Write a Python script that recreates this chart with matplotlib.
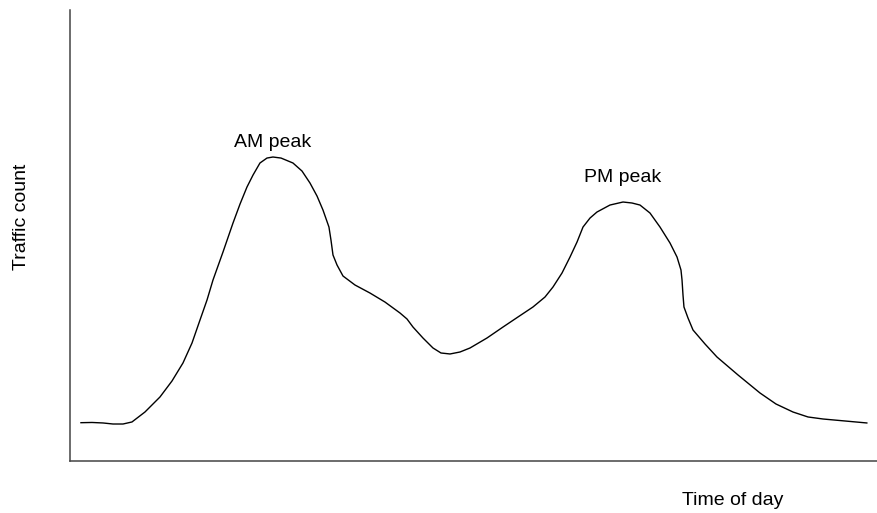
import matplotlib
matplotlib.use('Agg')
import matplotlib.pyplot as plt

plt.rcParams['font.family'] = ['Liberation Sans', 'DejaVu Sans']

# time of day (arbitrary units 0-100) and traffic count (relative)
time = [1.36, 2.73, 4.09, 5.33, 6.57, 7.68, 9.29, 11.15, 12.64, 14.00, 15.12, 16.11,
        16.98, 17.72, 18.96, 20.20, 21.07, 21.93, 22.68, 23.54, 24.41, 25.15, 26.15,
        27.63, 28.75, 29.74, 30.61, 31.35, 32.09, 32.34, 32.59, 33.09, 33.83, 35.32,
        37.17, 39.03, 40.89, 41.76, 42.50, 43.74, 44.98, 45.97, 47.09, 48.33, 49.57,
        51.67, 53.66, 55.51, 57.37, 58.86, 59.85, 60.97, 61.96, 62.83, 63.57, 64.44,
        65.30, 66.91, 68.53, 69.64, 70.63, 71.87, 73.11, 74.35, 75.22, 75.71, 75.84,
        75.96, 76.08, 76.58, 77.20, 78.69, 80.17, 82.78, 85.50, 87.48, 89.59, 91.45,
        93.31, 96.03, 98.74]
count = [8.49, 8.54, 8.43, 8.20, 8.20, 8.65, 10.86, 14.19, 17.74, 21.73, 26.16, 31.26,
         35.70, 40.13, 46.34, 52.77, 56.98, 60.75, 63.41, 66.08, 67.18, 67.41, 67.18,
         66.08, 64.30, 61.64, 58.76, 55.65, 51.88, 49.00, 45.68, 43.46, 41.02, 39.02,
         37.25, 35.25, 32.82, 31.49, 29.71, 27.27, 25.06, 23.95, 23.73, 24.17, 25.06,
         27.27, 29.71, 31.93, 34.15, 36.36, 38.58, 41.69, 45.23, 48.56, 51.88, 53.88,
         55.21, 56.76, 57.43, 57.21, 56.76, 54.99, 51.88, 48.34, 45.23, 42.35, 40.13,
         36.81, 34.15, 31.71, 29.05, 25.94, 23.06, 19.07, 15.08, 12.64, 10.86, 9.76,
         9.31, 8.87, 8.43]

peak_labels = ['AM peak', 'PM peak']
peak_x = [25.1, 68.5]
peak_y = [70.7, 62.8]

fig = plt.figure(figsize=(8.77, 5.13), dpi=100)
ax = fig.add_axes([0.0798, 0.1014, 0.9202, 0.879])
ax.plot(time, count, color='black', linewidth=1.0)
for lab, px, py in zip(peak_labels, peak_x, peak_y):
    ax.text(px, py, lab, ha='center', va='center', fontsize=14)

ax.set_xlim(0, 100)
ax.set_ylim(0, 100)
ax.set_xticks([])
ax.set_yticks([])
for s in ['top', 'right']:
    ax.spines[s].set_visible(False)
for s in ['left', 'bottom']:
    ax.spines[s].set_color('#444444')
    ax.spines[s].set_linewidth(1.1)

fig.text(0.024, 0.577, 'Traffic count', rotation=90, ha='center', va='center', fontsize=14)
fig.text(0.836, 0.024, 'Time of day', ha='center', va='center', fontsize=14)

fig.savefig('out.png', dpi=100)
